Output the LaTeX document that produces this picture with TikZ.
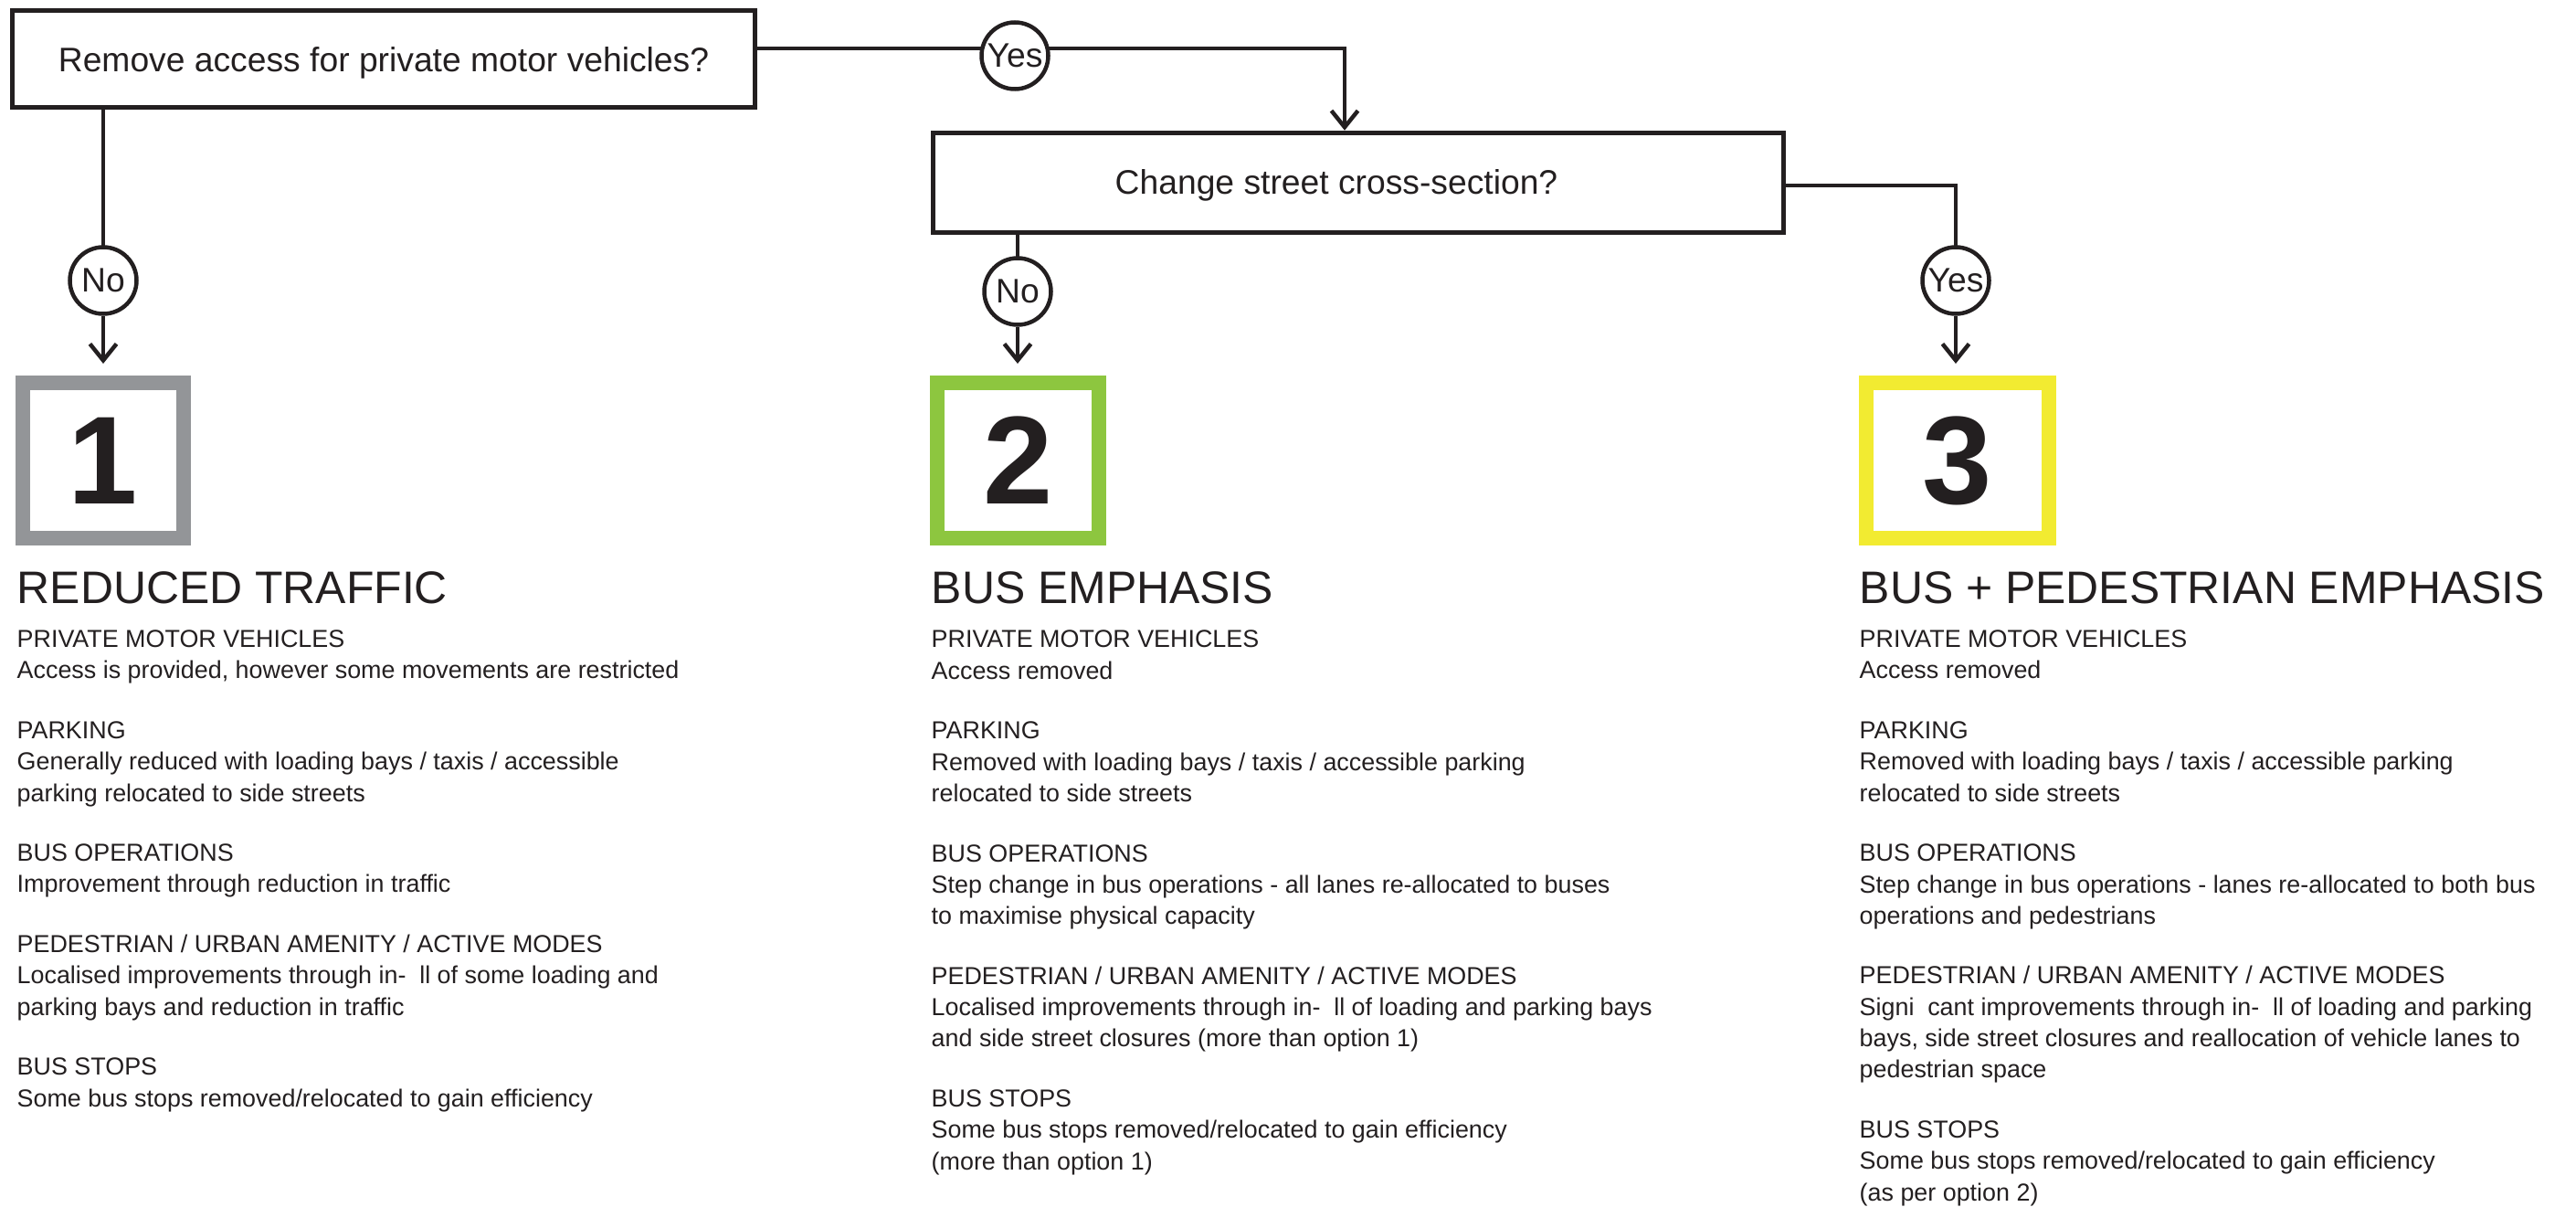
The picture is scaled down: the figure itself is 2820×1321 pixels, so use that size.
\documentclass[tikz,border=0pt]{standalone}
\usepackage{fontspec}
\setmainfont{Liberation Sans}
\usetikzlibrary{arrows.meta,backgrounds}
\definecolor{ink}{HTML}{231F20}
\definecolor{greyc}{HTML}{939598}
\definecolor{greenc}{HTML}{8DC63F}
\definecolor{yellowc}{HTML}{F2EB31}
\newcommand{\colgap}{\\[8.9pt]}
\newcommand{\figap}{\hspace{0.55em}}
\begin{document}
\begin{tikzpicture}[x=0.1mm, y=-0.1mm,
  qbox/.style={draw=ink, line width=0.55mm, inner sep=0},
  qtext/.style={anchor=base, inner sep=0, text=ink, font=\fontsize{10.6}{12}\selectfont},
  yn/.style={circle, draw=ink, line width=0.45mm, fill=white, minimum size=7.3mm, inner sep=0, text=ink, font=\fontsize{10.6}{12}\selectfont},
  numbox/.style={line width=1.6mm, fill=white, inner sep=0, minimum height=17mm, text=ink, font=\fontsize{39}{39}\selectfont\bfseries},
  conn/.style={draw=ink, line width=0.45mm},
  arr/.style={-{Straight Barb[length=1.8mm,width=2.9mm]}},
  coltitle/.style={anchor=base west, inner sep=0, text=ink, font=\fontsize{14.2}{17}\selectfont},
  colbody/.style={anchor=base west, inner sep=0, align=left, text=ink, font=\fontsize{7.65}{9.76}\selectfont},
]
\useasboundingbox (0,0) rectangle (2820,1321);

% question boxes
\node[qbox, minimum width=81.3mm, minimum height=10.6mm] (q1) at (420,64.5) {};
\node[qtext] (q1t) at (420,79) {Remove access for private motor vehicles?};
\node[qbox, minimum width=93.1mm, minimum height=10.9mm] (q2) at (1487,200) {};
\node[qtext] (q2t) at (1463,213) {Change street cross-section?};

% yes / no circles
\node[yn] (y1) at (1111,61) {Yes};
\node[yn] (n1) at (113,307) {No};
\node[yn] (n2) at (1114,319) {No};
\node[yn] (y2) at (2141,307) {Yes};

% numbered boxes
\node[numbox, draw=greyc, minimum width=17.6mm] (s1) at (113,504) {1};
\node[numbox, draw=greenc, minimum width=17.7mm] (s2) at (1114.5,504) {2};
\node[numbox, draw=yellowc, minimum width=20mm] (s3) at (2143,504) {3};

% connectors
\coordinate (j1) at (1472,53);
\coordinate (j2) at (2141,203);
\begin{pgfonlayer}{background}
\draw[conn, arr] (q1.east |- j1) -- (j1) -- (j1 |- q2.north);
\draw[conn] (q1.south -| n1) -- (n1.center);
\draw[conn] (q2.south -| n2) -- (n2.center);
\draw[conn] (q2.east |- j2) -- (j2) -- (y2.center);
\end{pgfonlayer}
\draw[conn, arr] (n1) -- ([yshift=1.3mm]s1.north -| n1);
\draw[conn, arr] (n2) -- ([yshift=1.3mm]s2.north -| n2);
\draw[conn, arr] (y2) -- ([yshift=1.3mm]s3.north -| y2);

% column texts (body nodes anchored at the baseline of their last line)
\node[coltitle] (t1) at (18,660) {REDUCED TRAFFIC};
\node[coltitle] (t2) at (1019,660) {BUS EMPHASIS};
\node[coltitle] (t3) at (2035,660) {BUS + PEDESTRIAN EMPHASIS};

\node[colbody] (b1) at (18,1211) {PRIVATE MOTOR VEHICLES\\
Access is provided, however some movements are restricted\colgap
PARKING\\
Generally reduced with loading bays / taxis / accessible\\
parking relocated to side streets\colgap
BUS OPERATIONS\\
Improvement through reduction in traffic\colgap
PEDESTRIAN / URBAN AMENITY / ACTIVE MODES\\
Localised improvements through in-\figap ll of some loading and\\
parking bays and reduction in traffic\colgap
BUS STOPS\\
Some bus stops removed/relocated to gain efficiency};

\node[colbody] (b2) at (1019,1280) {PRIVATE MOTOR VEHICLES\\
Access removed\colgap
PARKING\\
Removed with loading bays / taxis / accessible parking\\
relocated to side streets\colgap
BUS OPERATIONS\\
Step change in bus operations - all lanes re-allocated to buses\\
to maximise physical capacity\colgap
PEDESTRIAN / URBAN AMENITY / ACTIVE MODES\\
Localised improvements through in-\figap ll of loading and parking bays\\
and side street closures (more than option 1)\colgap
BUS STOPS\\
Some bus stops removed/relocated to gain efficiency\\
(more than option 1)};

\node[colbody] (b3) at (2035,1314) {PRIVATE MOTOR VEHICLES\\
Access removed\colgap
PARKING\\
Removed with loading bays / taxis / accessible parking\\
relocated to side streets\colgap
BUS OPERATIONS\\
Step change in bus operations - lanes re-allocated to both bus\\
operations and pedestrians\colgap
PEDESTRIAN / URBAN AMENITY / ACTIVE MODES\\
Signi\figap cant improvements through in-\figap ll of loading and parking\\
bays, side street closures and reallocation of vehicle lanes to\\
pedestrian space\colgap
BUS STOPS\\
Some bus stops removed/relocated to gain efficiency\\
(as per option 2)};
\end{tikzpicture}
\end{document}
